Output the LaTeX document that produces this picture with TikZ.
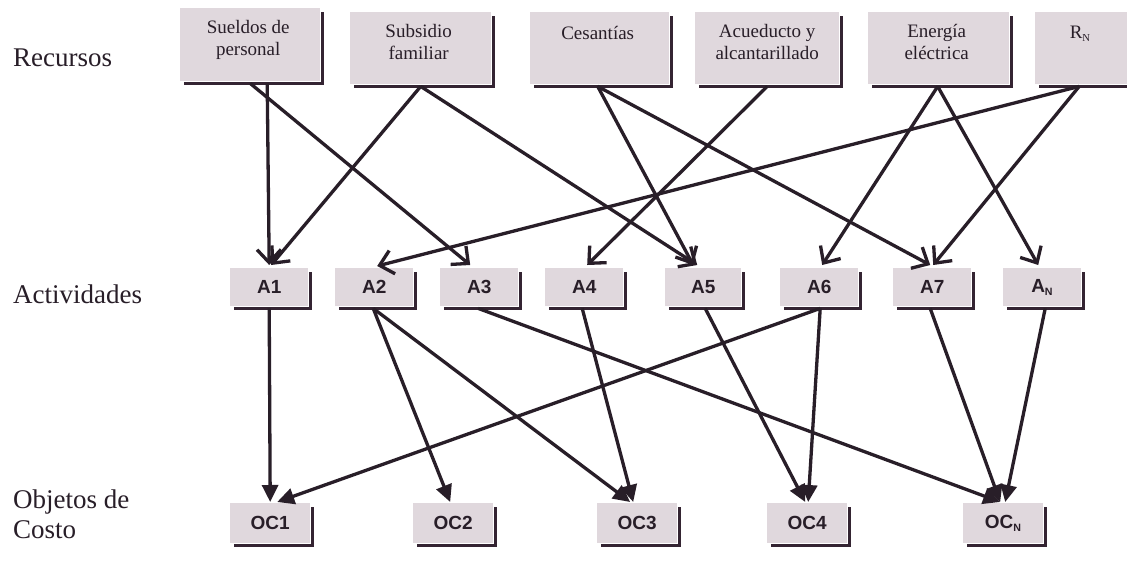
\documentclass[tikz,border=0pt]{standalone}
\usepackage{fontspec}
\setmainfont{Liberation Serif}
\setsansfont{Liberation Sans}
\usetikzlibrary{calc,arrows.meta}
\definecolor{boxfill}{RGB}{224,216,221}
\definecolor{edgedark}{RGB}{52,36,50}
\definecolor{ink}{RGB}{40,30,40}

% dark L-shaped edge on the right and bottom of a box
\newcommand\castshadow[1]{%
  \draw[draw=edgedark, line width=3.2pt]
    ($(#1.north east)+(2,4)$) -- ($(#1.south east)+(2,2)$) -- ($(#1.south west)+(4,2)$);}
\newcommand\smallsub[1]{\textsubscript{\scalebox{0.8}{#1}}}

\begin{document}
\begin{tikzpicture}[x=1pt,y=-1pt,
  box/.style={fill=boxfill, inner sep=0pt, anchor=north west},
  resbox/.style={box, minimum height=72pt},
  restxt/.style={font=\fontsize{19}{22}\selectfont, align=center, text=ink, anchor=north, inner sep=0pt},
  actbox/.style={box, minimum width=78pt, minimum height=38pt,
    font=\sffamily\bfseries\fontsize{19}{20}\selectfont, text=ink},
  ocbox/.style={box, minimum width=80pt, minimum height=40pt,
    font=\sffamily\bfseries\fontsize{19}{20}\selectfont, text=ink},
  side/.style={font=\fontsize{27}{30}\selectfont, anchor=base west, align=left, text=ink, inner sep=0pt},
  upper/.style={draw=ink, line width=3.3pt, -{Straight Barb[length=13pt,width=24pt]}},
  lower/.style={draw=ink, line width=3.3pt, -{Triangle[length=17pt,width=16pt]}},
]
\fill[white] (0,0) rectangle (1127,573);
\clip (0,0) rectangle (1127,573);

% row labels
\node[side] (lrec) at (13,66) {Recursos};
\node[side] (lact) at (13,303) {Actividades};
\node[side] (lobj) at (13,538) {Objetos de\\Costo};

% resources
\node[resbox, minimum width=140pt, minimum height=73pt] (r1) at (180,8) {};
\node[resbox, minimum width=141pt] (r2) at (350,12) {};
\node[resbox, minimum width=139pt] (r3) at (530,12) {};
\node[resbox, minimum width=144pt] (r4) at (695,12) {};
\node[resbox, minimum width=141pt] (r5) at (868,12) {};
\node[resbox, minimum width=94pt] (r6) at (1035,12) {};
\foreach \n in {r1,r2,r3,r4,r5,r6} {\castshadow{\n}}
\node[restxt] (t1) at ($(r1.north)+(-2,12)$) {Sueldos de\\personal};
\node[restxt] (t2) at ($(r2.north)+(-2,12)$) {Subsidio\\familiar};
\node[restxt] (t3) at ($(r3.north)+(-2,14)$) {Cesantías};
\node[restxt] (t4) at ($(r4.north)+(0,12)$) {Acueducto y\\alcantarillado};
\node[restxt] (t5) at ($(r5.north)+(-2,12)$) {Energía\\eléctrica};
\node[restxt] (t6) at ($(r6.north)+(-2,14)$) {R\smallsub{N}};

% activities
\node[actbox] (a1) at (230,268) {A1};
\node[actbox] (a2) at (335,268) {A2};
\node[actbox] (a3) at (440,268) {A3};
\node[actbox] (a4) at (545,268) {A4};
\node[actbox, minimum width=76pt] (a5) at (665,268) {A5};
\node[actbox] (a6) at (780,268) {A6};
\node[actbox] (a7) at (893,268) {A7};
\node[actbox] (aN) at (1003,268) {A\smallsub{N}};
\foreach \n in {a1,a2,a3,a4,a5,a6,a7,aN} {\castshadow{\n}}

% cost objects
\node[ocbox] (o1) at (230,503) {OC1};
\node[ocbox] (o2) at (413,503) {OC2};
\node[ocbox] (o3) at (597,503) {OC3};
\node[ocbox] (o4) at (767,503) {OC4};
\node[ocbox] (oN) at (963,503) {OC\smallsub{N}};
\foreach \n in {o1,o2,o3,o4,oN} {\castshadow{\n}}

% resources -> activities
\draw[upper] ($(r1.south)+(17,2)$) -- ($(a1.north)+(0,-3)$);
\draw[upper] ($(r1.south)+(0,2)$) -- ($(a3.north)+(-9,-3)$);
\draw[upper] ($(r2.south)+(0,2)$) -- ($(a1.north)+(2,-3)$);
\draw[upper] ($(r2.south)+(0,2)$) -- ($(a5.north)+(-6,-3)$);
\draw[upper] ($(r3.south)+(-2,2)$) -- ($(a5.north)+(-10,-3)$);
\draw[upper] ($(r3.south)+(-2,2)$) -- ($(a7.north)+(-2,-3)$);
\draw[upper] ($(r4.south)+(0,2)$) -- ($(a4.north)+(3,-3)$);
\draw[upper] ($(r5.south)+(-1,2)$) -- ($(a6.north)+(3,-3)$);
\draw[upper] ($(r5.south)+(-1,2)$) -- ($(aN.north)+(-4,-3)$);
\draw[upper] ($(r6.south)+(-3,2)$) -- ($(a2.north)+(3,-2)$);
\draw[upper] ($(r6.south)+(-3,2)$) -- ($(a7.north)+(1,-3)$);

% activities -> cost objects
\draw[lower] ($(a1.south)+(0,2)$) -- ($(o1.north)+(0,-1)$);
\draw[lower] ($(a2.south)+(-1,2)$) -- ($(o2.north)+(-3,-1)$);
\draw[lower] ($(a2.south)+(-1,2)$) -- ($(o3.north)+(-7,-1)$);
\draw[lower] ($(a3.south)+(-1,2)$) -- ($(oN.north)+(-3,-1)$);
\draw[lower] ($(a4.south)+(-2,2)$) -- ($(o3.north)+(-4,-1)$);
\draw[lower] ($(a5.south)+(2,2)$) -- ($(o4.north)+(-2,-1)$);
\draw[lower] ($(a6.south)+(1,2)$) -- ($(o1.north)+(7,-1)$);
\draw[lower] ($(a6.south)+(1,2)$) -- ($(o4.north)+(1,-1)$);
\draw[lower] ($(a7.south)+(-2,2)$) -- ($(oN.north)+(-3,-1)$);
\draw[lower] ($(aN.south)+(3,2)$) -- ($(oN.north)+(2,-1)$);
\end{tikzpicture}
\end{document}
